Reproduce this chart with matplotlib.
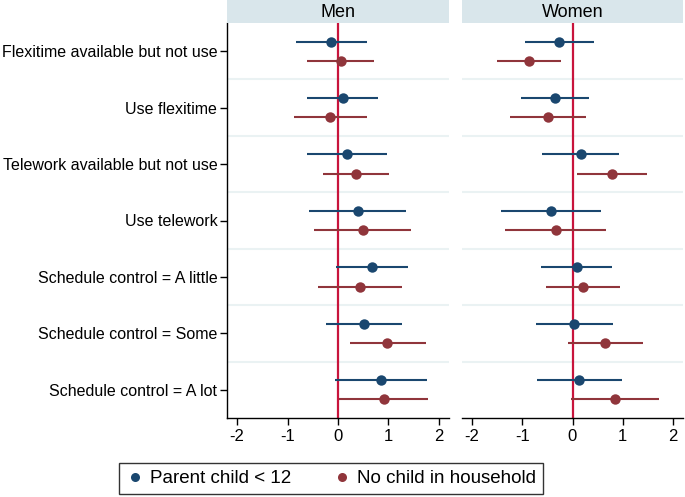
import matplotlib
matplotlib.use("Agg")
import matplotlib.pyplot as plt
from matplotlib.patches import Rectangle
from matplotlib.lines import Line2D

plt.rcParams['font.family'] = ['Liberation Sans', 'DejaVu Sans']

categories = ["Flexitime available but not use", "Use flexitime",
              "Telework available but not use", "Use telework",
              "Schedule control = A little", "Schedule control = Some",
              "Schedule control = A lot"]
panels = ["Men", "Women"]
series = ["Parent child < 12", "No child in household"]

# Men
men_parent_est = [-0.13, 0.10, 0.17, 0.39, 0.68, 0.52, 0.86]
men_parent_lo = [-0.83, -0.61, -0.62, -0.57, -0.03, -0.23, -0.05]
men_parent_hi = [0.58, 0.80, 0.97, 1.35, 1.38, 1.27, 1.77]
men_nochild_est = [0.05, -0.15, 0.36, 0.49, 0.44, 0.98, 0.91]
men_nochild_lo = [-0.61, -0.88, -0.29, -0.47, -0.40, 0.23, 0.01]
men_nochild_hi = [0.71, 0.58, 1.02, 1.45, 1.27, 1.74, 1.79]
# Women
women_parent_est = [-0.26, -0.35, 0.17, -0.43, 0.09, 0.03, 0.13]
women_parent_lo = [-0.94, -1.02, -0.60, -1.42, -0.63, -0.73, -0.71]
women_parent_hi = [0.42, 0.32, 0.93, 0.56, 0.79, 0.80, 0.99]
women_nochild_est = [-0.87, -0.48, 0.78, -0.33, 0.21, 0.65, 0.84]
women_nochild_lo = [-1.51, -1.24, 0.09, -1.34, -0.53, -0.08, -0.03]
women_nochild_hi = [-0.23, 0.27, 1.48, 0.66, 0.95, 1.40, 1.72]

xticks = [-2, -1, 0, 1, 2]

blue = "#1a476f"
red = "#90353b"
header_col = "#d9e6eb"
grid_col = "#eaf2f3"
zero_col = "#c8143c"

W, H = 685, 497
fig = plt.figure(figsize=(W / 100, H / 100), dpi=100)

panel_px = [(227, 449), (462, 683)]
top_px, bot_px, head_px = 23, 418, 0

data = {
    "Men": [(men_parent_est, men_parent_lo, men_parent_hi),
            (men_nochild_est, men_nochild_lo, men_nochild_hi)],
    "Women": [(women_parent_est, women_parent_lo, women_parent_hi),
              (women_nochild_est, women_nochild_lo, women_nochild_hi)],
}
offsets = [-0.17, 0.17]
colors = [blue, red]

for k, (name, (l, r)) in enumerate(zip(panels, panel_px)):
    ax = fig.add_axes([l / W, 1 - bot_px / H, (r - l) / W, (bot_px - top_px) / H])
    # header
    fig.patches.append(Rectangle((l / W, 1 - top_px / H), (r - l) / W, (top_px - head_px) / H,
                                 transform=fig.transFigure, facecolor=header_col,
                                 edgecolor='none', zorder=0))
    fig.text((l + r) / 2 / W, 1 - (top_px + head_px) / 2 / H - 0.002, name, ha='center',
             va='center', fontsize=13)
    n = len(categories)
    for b in range(n - 1):
        ax.axhline(b + 0.5, color=grid_col, lw=1.5, zorder=0)
    ax.axvline(0, color=zero_col, lw=1.6, zorder=1)
    for s, (est, lo, hi) in enumerate(data[name]):
        ys = [i + offsets[s] for i in range(n)]
        ax.hlines(ys, lo, hi, color=colors[s], lw=1.5, zorder=2)
        ax.plot(est, ys, 'o', color=colors[s], ms=7.5, zorder=3, mec='none')
    ax.set_xlim(-2.2, 2.2)
    ax.set_ylim(n - 0.5, -0.5)
    ax.set_xticks(xticks)
    ax.set_xticklabels([str(t) for t in xticks], fontsize=12)
    ax.tick_params(axis='x', length=5, width=1, direction='out', pad=3)
    for sp in ['top', 'right']:
        ax.spines[sp].set_visible(False)
    ax.spines['bottom'].set_linewidth(1)
    if k == 0:
        ax.set_yticks(range(n))
        ax.set_yticklabels(categories, fontsize=11.5)
        ax.tick_params(axis='y', length=5, width=1, pad=2)
        ax.spines['left'].set_linewidth(1)
    else:
        ax.set_yticks([])
        ax.spines['left'].set_visible(False)

handles = [Line2D([], [], marker='o', ls='none', color=c, ms=6.5, mec='none') for c in colors]
leg = fig.legend(handles, series, loc='center', bbox_to_anchor=(331 / W, 1 - 478.5 / H),
                 ncol=2, frameon=True, fancybox=False, fontsize=13.5, handletextpad=0.3,
                 columnspacing=2.2, borderpad=0.35, handlelength=1.0)
leg.get_frame().set_edgecolor('black')
leg.get_frame().set_linewidth(1)

fig.savefig("out.png", dpi=100)
